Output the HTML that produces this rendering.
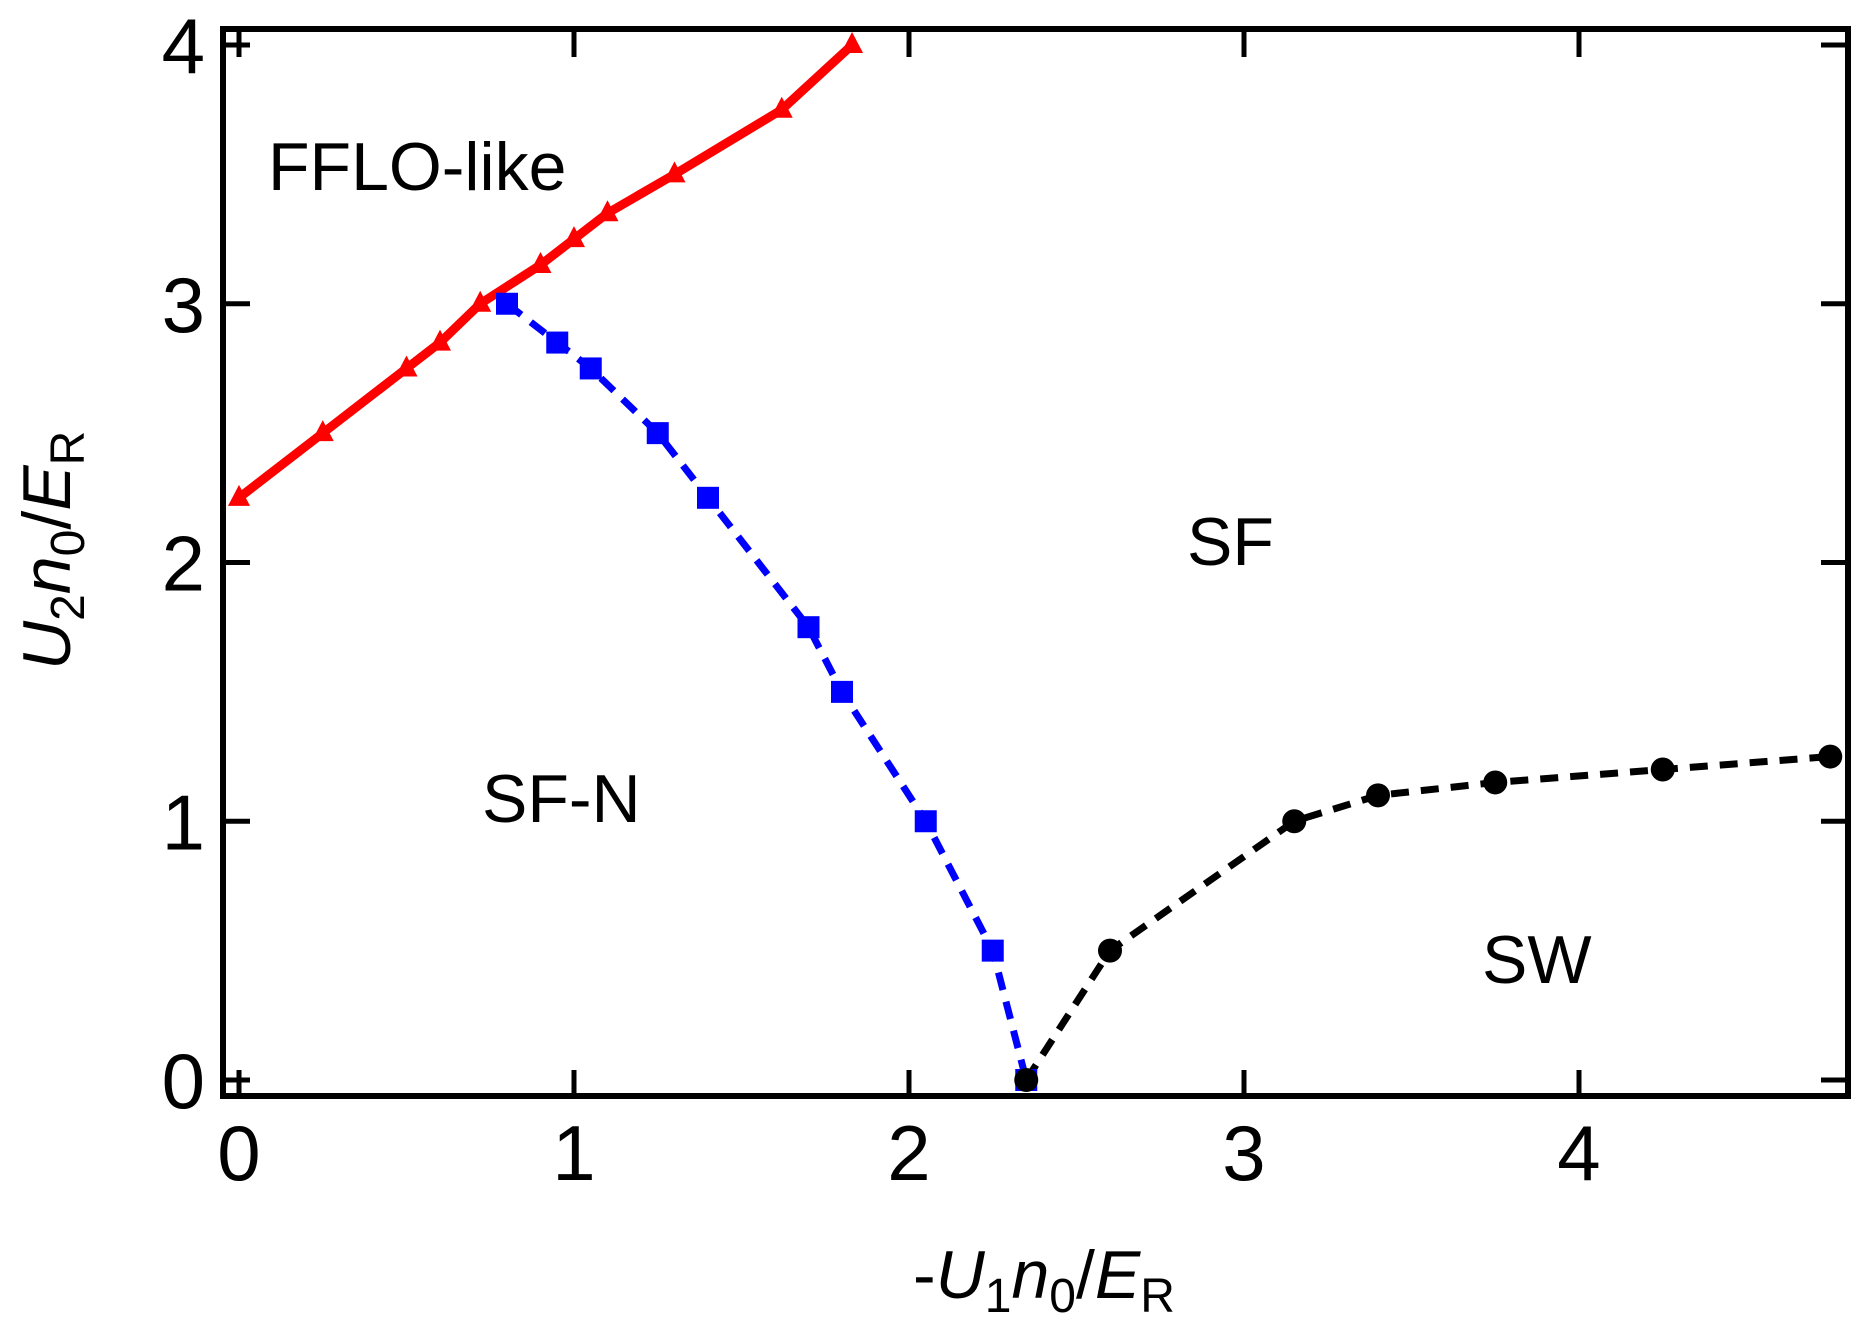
<!DOCTYPE html>
<html><head><meta charset="utf-8"><style>
html,body{margin:0;padding:0;background:#fff;}
svg{display:block;}
text{font-family:"Liberation Sans",sans-serif;fill:#000;}
</style></head><body>
<svg id="chart" width="1864" height="1332" viewBox="0 0 1864 1332" xmlns="http://www.w3.org/2000/svg">
<g id="marks"></g>
<rect x="223" y="29" width="1625" height="1067" fill="none" stroke="#000" stroke-width="6"/>
<g id="ticks"></g>
<text x="268" y="190" font-size="68">FFLO-like</text>
<text x="1187" y="565" font-size="68">SF</text>
<text x="482" y="822" font-size="68">SF-N</text>
<text x="1482" y="983" font-size="68">SW</text>
<text x="913" y="1298" font-size="68">-<tspan font-style="italic">U</tspan><tspan font-size="48" dy="14">1</tspan><tspan font-style="italic" dy="-14">n</tspan><tspan font-size="48" dy="14">0</tspan><tspan dy="-14">/</tspan><tspan font-style="italic">E</tspan><tspan font-size="48" dy="14">R</tspan></text>
<text transform="translate(70,670) rotate(-90)" font-size="68"><tspan font-style="italic">U</tspan><tspan font-size="48" dy="14">2</tspan><tspan font-style="italic" dy="-14">n</tspan><tspan font-size="48" dy="14">0</tspan><tspan dy="-14">/</tspan><tspan font-style="italic">E</tspan><tspan font-size="48" dy="14">R</tspan></text>
</svg>
<script>
const xTicks = [0, 1, 2, 3, 4];
const yTicks = [0, 1, 2, 3, 4];
const ffloX = [0, 0.25, 0.5, 0.6, 0.72, 0.9, 1.0, 1.1, 1.3, 1.62, 1.83];
const ffloY = [2.25, 2.5, 2.75, 2.85, 3.0, 3.15, 3.25, 3.35, 3.5, 3.75, 4.0];
const sfnX = [0.8, 0.95, 1.05, 1.25, 1.4, 1.7, 1.8, 2.05, 2.25, 2.35];
const sfnY = [3.0, 2.85, 2.75, 2.5, 2.25, 1.75, 1.5, 1.0, 0.5, 0.0];
const swX = [2.35, 2.6, 3.15, 3.4, 3.75, 4.25, 4.75];
const swY = [0.0, 0.5, 1.0, 1.1, 1.15, 1.2, 1.25];

const NS = 'http://www.w3.org/2000/svg';
function sx(v){ return 239 + v * 335; }
function sy(v){ return 1080 - v * 258.75; }
const marks = document.getElementById('marks');
const ticks = document.getElementById('ticks');
function mk(tag, attrs, parent){
  const e = document.createElementNS(NS, tag);
  for (const k in attrs) e.setAttribute(k, attrs[k]);
  parent.appendChild(e);
  return e;
}
function pts(xs, ys){ return xs.map((x,i)=>sx(x)+','+sy(ys[i])).join(' '); }

let l1 = mk('polyline', {points: pts(sfnX, sfnY), fill:'none', stroke:'#0000ff', 'stroke-width':7, 'stroke-dasharray':'18 12'}, marks);


let l2 = mk('polyline', {points: pts(swX, swY), fill:'none', stroke:'#000', 'stroke-width':7, 'stroke-dasharray':'18 12'}, marks);


let l3 = mk('polyline', {points: pts(ffloX, ffloY), fill:'none', stroke:'#ff0000', 'stroke-width':9}, marks);



sfnX.forEach((x,i)=>{
  const e = mk('rect', {x: sx(x)-11, y: sy(sfnY[i])-11, width:22, height:22, fill:'#0000ff'}, marks);
  
  
});
swX.forEach((x,i)=>{
  const e = mk('circle', {cx: sx(x), cy: sy(swY[i]), r:12, fill:'#000'}, marks);
  
  
});
ffloX.forEach((x,i)=>{
  const cx = sx(x), cy = sy(ffloY[i]);
  const e = mk('polygon', {points: cx+','+(cy-13)+' '+(cx-11)+','+(cy+8)+' '+(cx+11)+','+(cy+8), fill:'#ff0000'}, marks);
  
  
});

xTicks.forEach(v=>{
  const x = sx(v);
  const a = mk('line', {x1:x, y1:1096, x2:x, y2:1070, stroke:'#000', 'stroke-width':5}, ticks);
  
  
  const b = mk('line', {x1:x, y1:29, x2:x, y2:57, stroke:'#000', 'stroke-width':5}, ticks);
  
  
  const t = mk('text', {x:x, y:1180, 'font-size':78, 'text-anchor':'middle'}, ticks);
  t.textContent = v;
  
  
});
yTicks.forEach(v=>{
  const y = sy(v);
  const a = mk('line', {x1:223, y1:y, x2:250, y2:y, stroke:'#000', 'stroke-width':5}, ticks);
  
  
  const b = mk('line', {x1:1848, y1:y, x2:1821, y2:y, stroke:'#000', 'stroke-width':5}, ticks);
  
  
  const t = mk('text', {x:205, y:y+28, 'font-size':78, 'text-anchor':'end'}, ticks);
  t.textContent = v;
  
  
});
</script>
</body></html>
